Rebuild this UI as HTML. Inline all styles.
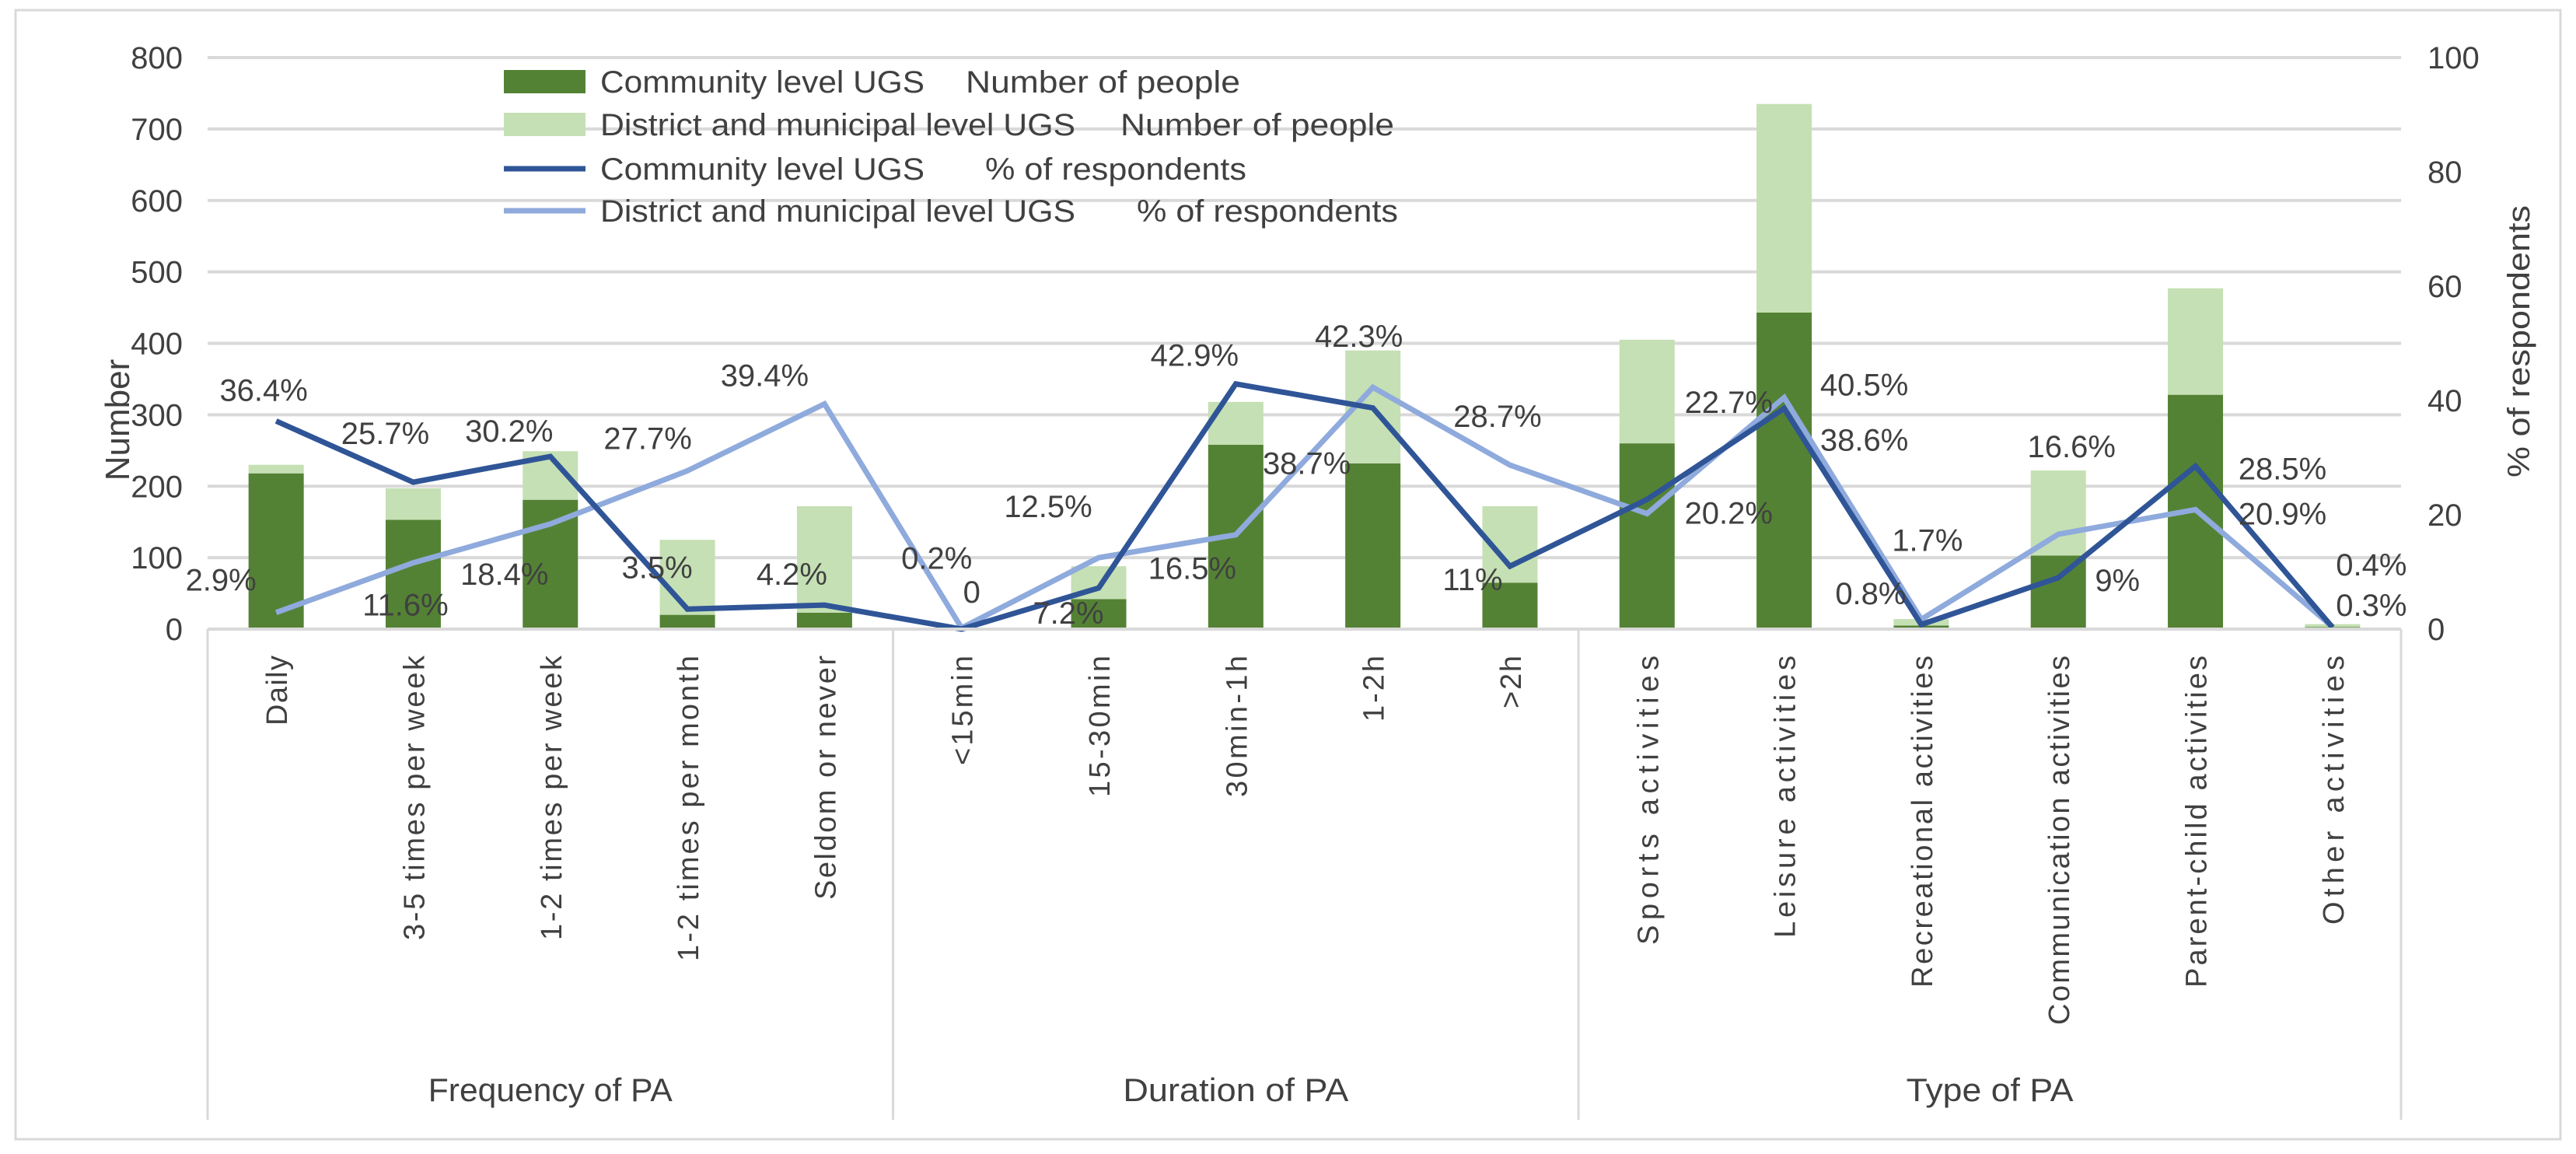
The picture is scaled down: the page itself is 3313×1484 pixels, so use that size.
<!DOCTYPE html>
<html><head><meta charset="utf-8"><style>
html,body{margin:0;padding:0;background:#fff}
svg{display:block}
text{font-family:"Liberation Sans",sans-serif;fill:#404040}
</style></head><body>
<svg id="chart" width="3313" height="1484" viewBox="0 0 3313 1484" xmlns="http://www.w3.org/2000/svg">
<rect x="20" y="13" width="3273" height="1452" fill="#fff" stroke="#d9d9d9" stroke-width="3"/>
<g id="grid"></g><g id="bars"></g><g id="lines"></g><g id="labels"></g><g id="axes"></g>
<g>
<rect x="648" y="90" width="105" height="30" fill="#548235"/>
<text x="772" y="119" font-size="40" textLength="417" lengthAdjust="spacingAndGlyphs">Community level UGS</text>
<text x="1242" y="119" font-size="40" textLength="353" lengthAdjust="spacingAndGlyphs">Number of people</text>
<rect x="648" y="145" width="105" height="30" fill="#c5e0b4"/>
<text x="772" y="174" font-size="40" textLength="611" lengthAdjust="spacingAndGlyphs">District and municipal level UGS</text>
<text x="1441" y="174" font-size="40" textLength="352" lengthAdjust="spacingAndGlyphs">Number of people</text>
<line x1="648" y1="217" x2="753" y2="217" stroke="#2f5597" stroke-width="7"/>
<text x="772" y="231" font-size="40" textLength="417" lengthAdjust="spacingAndGlyphs">Community level UGS</text>
<text x="1267" y="231" font-size="40" textLength="336" lengthAdjust="spacingAndGlyphs">% of respondents</text>
<line x1="648" y1="271" x2="753" y2="271" stroke="#8faadc" stroke-width="7"/>
<text x="772" y="285" font-size="40" textLength="611" lengthAdjust="spacingAndGlyphs">District and municipal level UGS</text>
<text x="1462" y="285" font-size="40" textLength="336" lengthAdjust="spacingAndGlyphs">% of respondents</text>
</g>
</svg>
<script>
const categories=["Daily","3-5 times per week","1-2 times per week","1-2 times per month","Seldom or never","<15min","15-30min","30min-1h","1-2h",">2h","Sports activities","Leisure activities","Recreational activities","Communication activities","Parent-child activities","Other activities"];
const groups=["Frequency of PA","Duration of PA","Type of PA"];
const groupSizes=[5,5,6];
const communityPeople=[218,153,181,20,23,1,42,258,232,65,260,443,5,103,328,3];
const districtPeople=[12,44,68,105,149,1,46,60,158,107,145,292,9,119,149,4];
const communityPct=[36.4,25.7,30.2,3.5,4.2,0,7.2,42.9,38.7,11,22.7,38.6,0.8,9,28.5,0.3];
const districtPct=[2.9,11.6,18.4,27.7,39.4,0.2,12.5,16.5,42.3,28.7,20.2,40.5,1.7,16.6,20.9,0.4];
const communityPctLabels=["36.4%","25.7%","30.2%","3.5%","4.2%","0","7.2%","42.9%","38.7%","11%","22.7%","38.6%","0.8%","9%","28.5%","0.3%"];
const districtPctLabels=["2.9%","11.6%","18.4%","27.7%","39.4%","0.2%","12.5%","16.5%","42.3%","28.7%","20.2%","40.5%","1.7%","16.6%","20.9%","0.4%"];
const leftTicks=[0,100,200,300,400,500,600,700,800];
const rightTicks=[0,20,40,60,80,100];

// layout
const X0=267,X1=3088,Y0=809,YT=74,BW=71;
const catLens=[90,366,366,393,314,141,182,182,85,68,372,363,427,475,427,346];
const cDx=[-16,-36,-53,-39,-42,13,-39,-53,-85,-48,105,103,-65,76,112,50];
const cDy=[-40,-63,-33,-54,-40,-48,32,-37,71,17,-125,40,-40,3,3,-29];
const dDx=[-71,-10,-59,-51,-77,-32,-65,-56,-18,-16,105,103,8,17,112,50];
const dDy=[-42,54,64,-42,-37,-90,-66,43,-66,-63,-1,-17,-102,-113,5,-80];
const groupLens=[314,290,215];

const NS="http://www.w3.org/2000/svg";
const n=categories.length, step=(X1-X0)/n;
const xc=i=>X0+step*(i+0.5);
const yL=v=>Y0-(v/800)*(Y0-YT);
const yR=v=>Y0-(v/100)*(Y0-YT);
function mk(tag,attrs,parent,txt){const e=document.createElementNS(NS,tag);for(const k in attrs)e.setAttribute(k,attrs[k]);if(txt!==undefined)e.textContent=txt;document.getElementById(parent).appendChild(e);return e;}

leftTicks.forEach(t=>{
  if(t>0){const g=mk('line',{x1:X0,x2:X1,y1:yL(t),y2:yL(t),stroke:'#d9d9d9','stroke-width':4},'grid');
  
  }
  const l=mk('text',{x:235,y:yL(t)+14,'font-size':40,'text-anchor':'end'},'axes',String(t));
  
  
});
rightTicks.forEach(t=>{
  const l=mk('text',{x:3122,y:yR(t)+14,'font-size':40},'axes',String(t));
  
  
});
categories.forEach((c,i)=>{
  const x=xc(i);
  const h1=Y0-yL(communityPeople[i]);
  const b1=mk('rect',{x:x-BW/2,y:Y0-h1,width:BW,height:h1,fill:'#548235'},'bars');
  
  
  const h2=Y0-yL(districtPeople[i]);
  const b2=mk('rect',{x:x-BW/2,y:Y0-h1-h2,width:BW,height:h2,fill:'#c5e0b4'},'bars');
  
  
  const t=mk('text',{x:0,y:0,'font-size':38,'text-anchor':'end',transform:`translate(${x+14},843) rotate(-90)`,textLength:catLens[i],lengthAdjust:'spacing'},'axes',c);
  
  
});
const ax=mk('line',{x1:X0,x2:X1,y1:Y0,y2:Y0,stroke:'#d9d9d9','stroke-width':4},'axes');


let s=0;const bounds=[0];groupSizes.forEach(g=>{s+=g;bounds.push(s);});
bounds.forEach(b=>{
  const v=mk('line',{x1:X0+b*step,x2:X0+b*step,y1:Y0,y2:1440,stroke:'#d9d9d9','stroke-width':3},'axes');
  
  
});
groups.forEach((g,k)=>{
  const cx=X0+step*(bounds[k]+bounds[k+1])/2;
  const t=mk('text',{x:cx-groupLens[k]/2,y:1416,'font-size':42,textLength:groupLens[k],lengthAdjust:'spacingAndGlyphs'},'axes',g);
  
  
});
const lt=mk('text',{x:0,y:0,'font-size':44,'text-anchor':'middle',transform:'translate(166,540) rotate(-90)'},'axes','Number');


const rt=mk('text',{x:0,y:0,'font-size':40,'text-anchor':'middle',transform:'translate(3253,439) rotate(-90)',textLength:350,lengthAdjust:'spacingAndGlyphs'},'axes','% of respondents');



function line(vals,color,name){
  const p=mk('polyline',{points:vals.map((v,i)=>xc(i)+','+yR(v)).join(' '),fill:'none',stroke:color,'stroke-width':7,'stroke-linejoin':'miter'},'lines');
  
  
}
line(districtPct,'#8faadc','line-district-pct');
line(communityPct,'#2f5597','line-community-pct');
communityPct.forEach((v,i)=>{
  const t=mk('text',{x:xc(i)+cDx[i],y:yR(v)+cDy[i]+14,'font-size':40,'text-anchor':'middle'},'labels',communityPctLabels[i]);
  
  
});
districtPct.forEach((v,i)=>{
  const t=mk('text',{x:xc(i)+dDx[i],y:yR(v)+dDy[i]+14,'font-size':40,'text-anchor':'middle'},'labels',districtPctLabels[i]);
  
  
});
</script>
</body></html>
